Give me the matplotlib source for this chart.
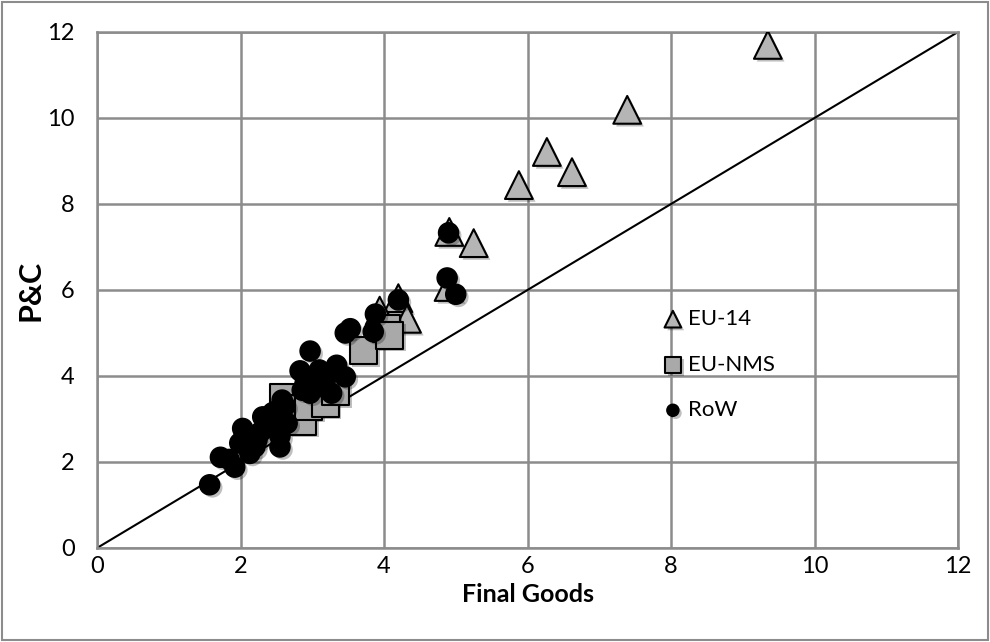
import numpy as np
import matplotlib
matplotlib.use('Agg')
from matplotlib import pyplot as plt
import matplotlib.patheffects as pe

plt.rcParams['font.family'] = ['Lato', 'DejaVu Sans']

# EU-14 (triangles)
eu14_x = [9.35, 7.39, 6.27, 6.62, 5.88, 4.91, 5.25, 4.90, 4.20, 3.94, 4.32]
eu14_y = [11.70, 10.19, 9.21, 8.74, 8.44, 7.35, 7.09, 6.07, 5.81, 5.52, 5.33]

# EU-NMS (squares)
nms_x = [2.60, 2.65, 2.87, 2.95, 3.18, 3.33, 3.71, 4.03, 4.08]
nms_y = [3.50, 3.25, 2.95, 3.30, 3.37, 3.63, 4.60, 5.10, 4.95]

# RoW (circles)
row_x = [1.57, 1.72, 1.84, 1.92, 1.99, 2.03, 2.05, 2.13, 2.20, 2.23, 2.28,
         2.31, 2.37, 2.41, 2.45, 2.51, 2.55, 2.55, 2.58, 2.62, 2.65, 2.83,
         2.86, 2.90, 2.97, 2.97, 3.02, 3.10, 3.15, 3.20, 3.27, 3.34, 3.46,
         3.46, 3.53, 3.85, 3.88, 4.20, 4.88, 5.00, 4.90]
row_y = [1.47, 2.11, 2.06, 1.88, 2.44, 2.78, 2.60, 2.20, 2.35, 2.51, 2.70,
         3.05, 2.98, 2.81, 3.15, 3.20, 2.35, 2.60, 3.44, 3.30, 2.90, 4.12,
         3.67, 3.83, 4.58, 3.60, 3.90, 4.14, 3.75, 3.98, 3.60, 4.25, 3.98,
         5.00, 5.10, 5.03, 5.44, 5.77, 6.28, 5.90, 7.33]

ticks = [0, 2, 4, 6, 8, 10, 12]

fig = plt.figure(figsize=(9.9, 6.42), dpi=100)
ax = fig.add_axes([97/990, 1-548/642, (958-97)/990, (548-32)/642])

shadow = [pe.SimplePatchShadow(offset=(2, -2), shadow_rgbFace='k', alpha=0.25), pe.Normal()]

t = ax.scatter(eu14_x, eu14_y, marker='^', s=400, c='#b5b5b5', edgecolors='k',
               linewidths=1.5, zorder=3, label='EU-14')
q = ax.scatter(nms_x, nms_y, marker='s', s=380, c='#a9a9a9', edgecolors='k',
               linewidths=1.5, zorder=4, label='EU-NMS')
r = ax.scatter(row_x, row_y, marker='o', s=210, c='k', edgecolors='k',
               linewidths=1, zorder=5, label='RoW')
for coll in (t, q, r):
    coll.set_path_effects(shadow)

ax.plot([0, 12], [0, 12], color='k', lw=1.5, zorder=2)

ax.set_xlim(0, 12)
ax.set_ylim(0, 12)
ax.set_xticks(ticks)
ax.set_yticks(ticks)
ax.grid(True, color='#8c8c8c', lw=1.8)
ax.set_axisbelow(True)
for s in ax.spines.values():
    s.set_color('#8c8c8c')
    s.set_linewidth(1.8)
ax.tick_params(length=0, labelsize=17)
ax.tick_params(axis='x', pad=6)
ax.tick_params(axis='y', pad=16)

ax.set_xlabel('Final Goods', fontsize=18, fontweight='bold', labelpad=4)
ax.set_ylabel('P&C', fontsize=22, fontweight='bold', labelpad=2)

leg = ax.legend(handles=[t, q, r], loc='upper left',
                bbox_to_anchor=(664/990, 1-309/642), bbox_transform=fig.transFigure,
                frameon=False, fontsize=16, markerscale=0.6, handlelength=0.8,
                handletextpad=0.3, labelspacing=1.15, borderpad=0, borderaxespad=0)

# outer border
fig.patches.append(plt.Rectangle((0.002, 0.003), 0.996, 0.994, transform=fig.transFigure,
                                 fill=False, edgecolor='#8c8c8c', lw=1.5))

fig.savefig('out.png', dpi=100)
